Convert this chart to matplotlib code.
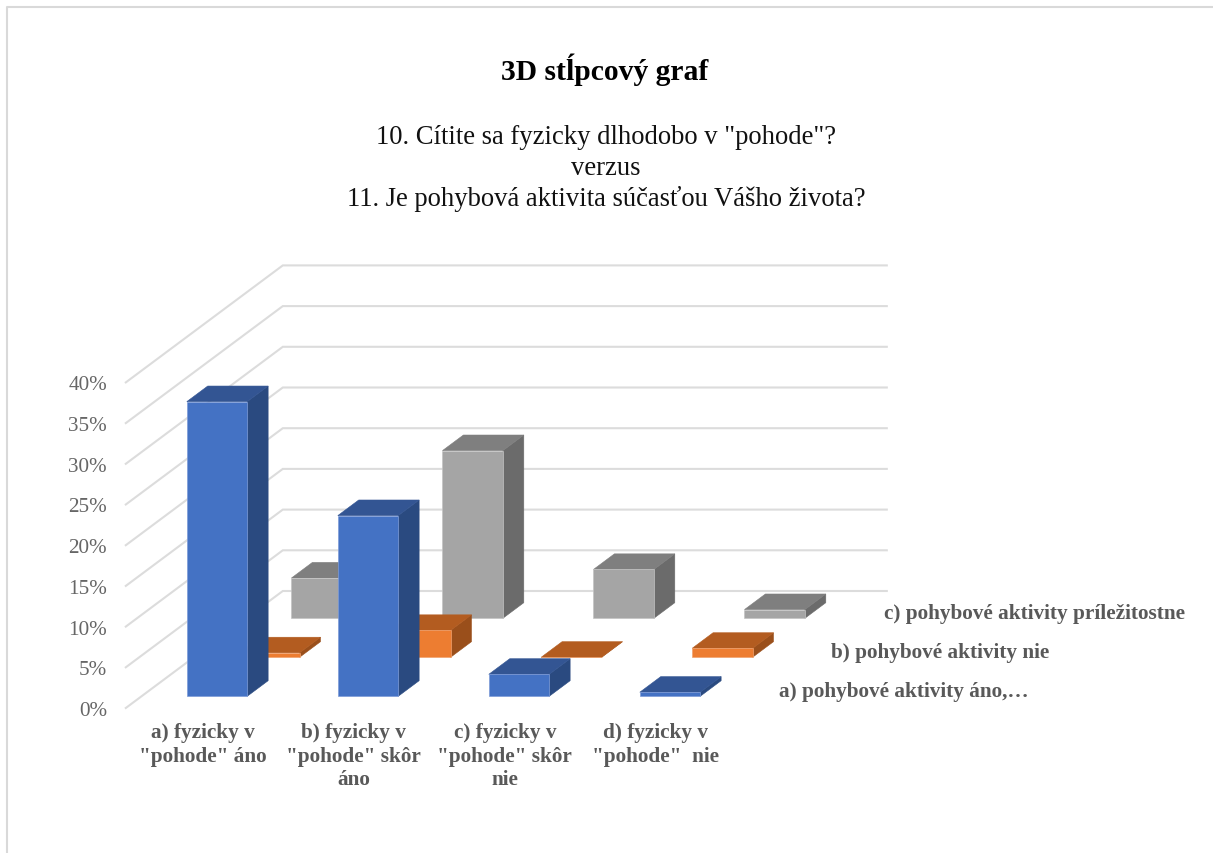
import numpy as np
import matplotlib
matplotlib.use('Agg')
import matplotlib.pyplot as plt
from matplotlib.patches import Polygon

plt.rcParams['font.family'] = ['Liberation Serif', 'DejaVu Serif']

# survey answers, share of respondents in %
categories = ['a) fyzicky v\n"pohode" áno', 'b) fyzicky v\n"pohode" skôr\náno',
              'c) fyzicky v\n"pohode" skôr\nnie', 'd) fyzicky v\n"pohode"  nie']
series_names = ['a) pohybové aktivity áno,…', 'b) pohybové aktivity nie',
                'c) pohybové aktivity príležitostne']
aktivity_ano = [36.2, 22.2, 2.7, 0.5]
aktivity_nie = [0.55, 3.3, 0.0, 1.1]
aktivity_prilez = [4.95, 20.6, 6.0, 1.07]
y_ticks = [0, 5, 10, 15, 20, 25, 30, 35, 40]

# colours per series: front, top, side
front_cols = ['#4472C4', '#ED7D31', '#A5A5A5']
top_cols = ['#335593', '#B35C20', '#7F7F7F']
side_cols = ['#2A4A80', '#9A4F1B', '#6B6B6B']
edge_cols = ['#7D9BD8', '#F2A26E', '#C4C4C4']

# oblique projection of the 3D box onto the page
ORIGIN_X, ORIGIN_Y = 125.8, 709.0
CAT_W = 151.0
PX_PER_PCT = 8.14
DEPTH_X, DEPTH_Y = 157.0, -117.0
BAR_W = 0.40    # in category widths
BAR_D = 0.40    # in series slots


def proj(cat, val, depth):
    # cat in category widths, val in %, depth in series slots (0..3)
    x = ORIGIN_X + cat * CAT_W + depth / 3 * DEPTH_X
    y = ORIGIN_Y - val * PX_PER_PCT + depth / 3 * DEPTH_Y
    return (x, y)


fig = plt.figure(figsize=(12.13, 8.54), dpi=100)
ax = fig.add_axes([0, 0, 1, 1])
ax.set_xlim(0, 1213)
ax.set_ylim(854, 0)
ax.axis('off')

# outer chart border, only top and left are visible
ax.plot([1213, 7, 7], [8, 8, 854], color='#D9D9D9', lw=1.5, zorder=1)

# walls
grid_col = '#DCDCDC'
for t in y_ticks:
    pts = [proj(0, t, 0), proj(0, t, 3), proj(4, t, 3)]
    ax.plot([p[0] for p in pts], [p[1] for p in pts], color=grid_col, lw=1.5,
            solid_joinstyle='miter', zorder=1)
    ax.text(107, proj(0, t, 0)[1] + 2.5, str(t) + '%', ha='right', va='center',
            fontsize=15.2, color='#666666')

# bars, back row first so the front row covers it
rows = [aktivity_ano, aktivity_nie, aktivity_prilez]
z = 2
for s in [2, 1, 0]:
    d0 = s + (1 - BAR_D) / 2
    d1 = d0 + BAR_D
    for c, val in enumerate(rows[s]):
        c0 = c + (1 - BAR_W) / 2
        c1 = c0 + BAR_W
        front = [proj(c0, 0, d0), proj(c1, 0, d0), proj(c1, val, d0), proj(c0, val, d0)]
        top = [proj(c0, val, d0), proj(c1, val, d0), proj(c1, val, d1), proj(c0, val, d1)]
        side = [proj(c1, 0, d0), proj(c1, 0, d1), proj(c1, val, d1), proj(c1, val, d0)]
        ax.add_patch(Polygon(side, closed=True, facecolor=side_cols[s], edgecolor=side_cols[s],
                             lw=0.4, zorder=z))
        ax.add_patch(Polygon(top, closed=True, facecolor=top_cols[s], edgecolor=top_cols[s],
                             lw=0.4, zorder=z))
        ax.add_patch(Polygon(front, closed=True, facecolor=front_cols[s], edgecolor=edge_cols[s],
                             lw=0.5, joinstyle='miter', zorder=z))
        z += 1

# category labels under the front edge
for c, lab in enumerate(categories):
    ax.text(proj(c + 0.5, 0, 0)[0] + 1.5, 723, lab, ha='center', va='top', fontsize=15.3,
            fontweight='bold', color='#595959', linespacing=1.24)

# series labels along the right side
for s, lab in enumerate(series_names):
    ax.text(proj(4, 0, s + 0.5)[0] + 23, proj(4, 0, s + 0.5)[1] + 3, lab, ha='left', va='center',
            fontsize=15.3, fontweight='bold', color='#595959')

ax.text(605, 70, '3D stĺpcový graf', ha='center', va='center', fontsize=21.3, fontweight='bold',
        color='black')
sub = ['10. Cítite sa fyzicky dlhodobo v "pohode"?', 'verzus',
       '11. Je pohybová aktivita súčasťou Vášho života?']
for i, line in enumerate(sub):
    ax.text(606, 138 + i * 30.5, line, ha='center', va='center', fontsize=19.2, color='#111111')

fig.savefig('out.png', dpi=100)
